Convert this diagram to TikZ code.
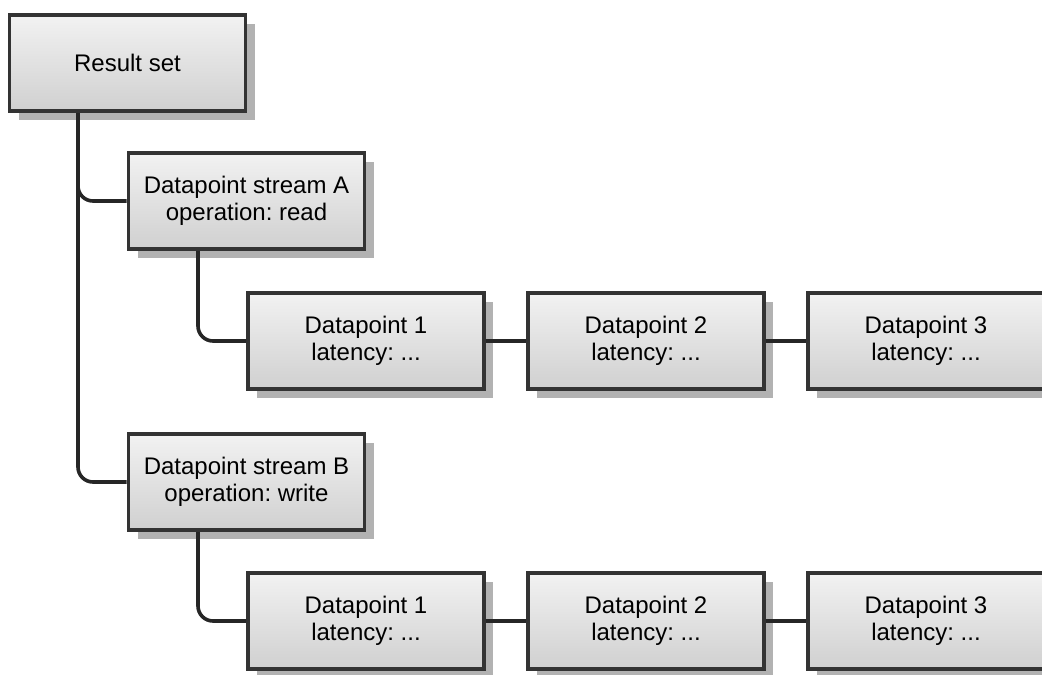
\documentclass[tikz,border=0pt]{standalone}
\usepackage{fontspec}
\setmainfont{Liberation Sans}
\usetikzlibrary{shadows}
\frenchspacing
\definecolor{boxline}{HTML}{333333}
\definecolor{connline}{HTML}{262626}
\definecolor{boxtop}{HTML}{F2F2F2}
\definecolor{boxbot}{HTML}{D0D0D0}
\definecolor{shadowgray}{HTML}{B2B2B2}
\tikzset{
  box/.style={draw=boxline, line width=3.6pt, top color=boxtop, bottom color=boxbot,
    minimum width=236pt, minimum height=96pt, inner sep=0pt, align=center,
    font=\fontsize{24}{27}\selectfont\frenchspacing, text=black,
    drop shadow={shadow xshift=9pt, shadow yshift=-9pt, fill=shadowgray, opacity=1}},
  conn/.style={draw=connline, line width=3.6pt, rounded corners=15pt}
}
\begin{document}
\begin{tikzpicture}[x=1pt,y=-1pt]
\useasboundingbox (0,0) rectangle (1042,675);
\clip (0,0) rectangle (1042,675);
\fill[white] (0,0) rectangle (1042,675);
\coordinate (rsout) at (78,113);
\coordinate (saout) at (198,251);
\coordinate (sbout) at (198,532);
\node[box] (rs) at (127.5,63) {Result set};
\node[box] (sa) at (246.5,201) {Datapoint stream A\\operation: read};
\node[box] (sb) at (246.5,482) {Datapoint stream B\\operation: write};
\node[box] (a1) at (366,341) {Datapoint 1\\latency: ...};
\node[box] (a2) at (646,341) {Datapoint 2\\latency: ...};
\node[box] (a3) at (926,341) {Datapoint 3\\latency: ...};
\node[box] (b1) at (366,621) {Datapoint 1\\latency: ...};
\node[box] (b2) at (646,621) {Datapoint 2\\latency: ...};
\node[box] (b3) at (926,621) {Datapoint 3\\latency: ...};
\draw[conn] (rsout) |- (sa.west);
\draw[conn] (rsout) |- (sb.west);
\draw[conn] (saout) |- (a1.west);
\draw[conn] (sbout) |- (b1.west);
\draw[conn] (a1.east) -- (a2.west);
\draw[conn] (a2.east) -- (a3.west);
\draw[conn] (b1.east) -- (b2.west);
\draw[conn] (b2.east) -- (b3.west);
\end{tikzpicture}
\end{document}
